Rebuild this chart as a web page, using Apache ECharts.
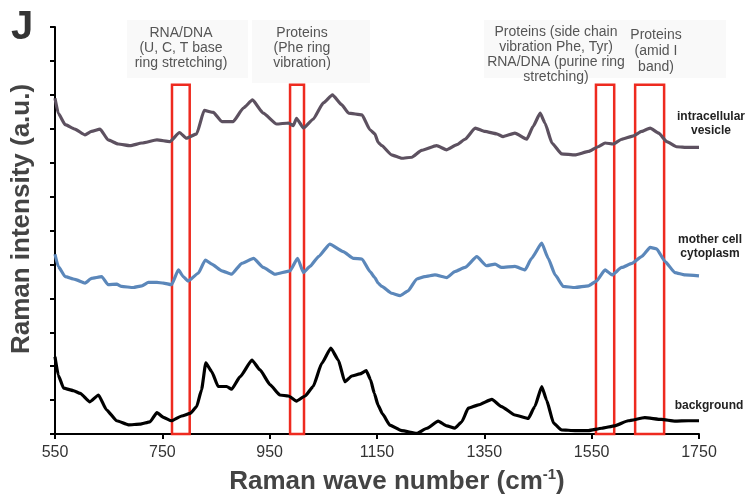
<!DOCTYPE html>
<html>
<head>
<meta charset="utf-8">
<script src="https://cdn.jsdelivr.net/npm/echarts@6/dist/echarts.min.js"></script>
<style>
html,body{margin:0;padding:0;background:#fff;}
#container{width:748px;height:500px;}
</style>
</head>
<body>
<div id="container"></div>
<script>
// wave number (cm-1) and intensity (a.u., offset traces)
var xTicks = [550, 750, 950, 1150, 1350, 1550, 1750];

var bgWave = [550,556,566,584,597,615,631,646,665,687,708,727,740,752,767,786,802,814,823,831,842,854,870,879,895,917,932,951,969,985,1000,1016,1031,1047,1064,1078,1090,1103,1118,1130,1138,1145,1152,1160,1174,1196,1224,1243,1264,1280,1295,1308,1320,1339,1364,1382,1407,1432,1444,1457,1466,1479,1494,1519,1544,1569,1593,1618,1649,1680,1705,1730,1750];
var bgInt = [2.28,1.74,1.35,1.28,1.2,0.95,1.15,0.71,0.39,0.27,0.29,0.36,0.63,0.49,0.39,0.53,0.61,0.81,1.30,2.10,1.84,1.40,1.40,1.32,1.69,2.18,1.89,1.45,1.15,1.12,0.97,1.12,1.40,2.08,2.53,2.18,1.54,1.71,1.77,1.87,1.6,1.2,0.85,0.6,0.26,0.10,0.02,0.17,0.38,0.24,0.17,0.36,0.76,0.86,1.02,0.81,0.56,0.46,0.81,1.40,1.00,0.32,0.12,0.10,0.10,0.17,0.24,0.39,0.48,0.43,0.38,0.39,0.39];

var cytoWave = [550,556,569,587,606,618,637,649,665,674,696,712,724,740,752,767,780,789,798,817,830,842,861,879,898,920,938,960,988,1002,1013,1025,1041,1062,1087,1106,1122,1137,1146,1152,1159,1177,1193,1208,1224,1239,1258,1280,1295,1314,1336,1354,1370,1382,1407,1426,1438,1457,1469,1482,1497,1519,1544,1559,1575,1588,1606,1625,1643,1659,1671,1687,1705,1724,1750];
var cytoInt = [5.30,4.94,4.64,4.56,4.45,4.59,4.64,4.40,4.42,4.35,4.32,4.37,4.47,4.47,4.45,4.40,4.84,4.64,4.51,4.74,5.13,5.01,4.81,4.71,5.03,5.18,4.91,4.71,4.81,5.18,4.76,4.94,5.23,5.60,5.38,5.18,5.16,4.79,4.61,4.45,4.35,4.15,4.08,4.22,4.57,4.64,4.69,4.61,4.79,4.91,5.23,4.96,5.01,4.91,4.94,4.84,5.18,5.63,5.18,4.69,4.35,4.32,4.37,4.51,4.84,4.69,4.91,5.03,5.23,5.50,5.46,5.08,4.76,4.69,4.66];

var vesWave = [550,556,569,587,606,618,634,649,668,690,712,740,764,782,795,814,828,845,861,882,901,918,938,963,985,994,1000,1013,1031,1050,1067,1084,1097,1122,1137,1146,1152,1159,1177,1196,1215,1233,1261,1280,1299,1314,1333,1351,1373,1385,1407,1429,1441,1454,1463,1476,1494,1519,1544,1562,1575,1590,1606,1628,1643,1659,1675,1690,1708,1730,1750];
var vesInt = [9.90,9.46,9.12,8.99,8.82,8.92,8.99,8.67,8.55,8.50,8.58,8.67,8.62,8.89,8.72,8.85,9.54,9.48,9.21,9.21,9.61,9.85,9.46,9.14,9.17,9.09,9.31,9.02,9.28,9.76,10.00,9.71,9.46,9.41,8.97,8.85,8.6,8.5,8.23,8.13,8.16,8.36,8.50,8.38,8.53,8.69,9.02,8.92,8.85,8.77,8.87,8.69,9.07,9.46,9.17,8.58,8.26,8.23,8.33,8.47,8.58,8.55,8.69,8.79,8.92,9.02,8.87,8.62,8.47,8.45,8.45];

// marked bands [from, to] and their top
var bandFrom = [768, 988, 1558, 1631];
var bandTo = [801, 1014, 1592, 1685];
var bandTop = 10.3;

var FONT = "'Liberation Sans', Arial, sans-serif";

function pairs(xs, ys) {
	var out = [];
	for (var i = 0; i < xs.length; i++) {
		out.push([xs[i], ys[i]]);
	}
	return out;
}

function lineSeries(name, xs, ys, color) {
	return {
		name: name,
		type: 'line',
		data: pairs(xs, ys),
		showSymbol: false,
		smooth: 0.15,
		smoothMonotone: 'x',
		lineStyle: { color: color, width: 3.2, join: 'round' },
		silent: true
	};
}

function label(text, x, y, style) {
	return {
		type: 'text',
		x: x,
		y: y,
		style: Object.assign({
			text: text,
			fontFamily: FONT,
			align: 'center',
			verticalAlign: 'middle'
		}, style)
	};
}

function getOption() {
	var bands = [];
	for (var i = 0; i < bandFrom.length; i++) {
		bands.push([{ xAxis: bandFrom[i], yAxis: 0 }, { xAxis: bandTo[i], yAxis: bandTop }]);
	}
	var bg = lineSeries('background', bgWave, bgInt, '#000000');
	bg.markArea = {
		silent: true,
		itemStyle: { color: 'rgba(0,0,0,0)', borderColor: '#ee2a1f', borderWidth: 2.5 },
		data: bands
	};

	var noteStyle = { fontSize: 14, fill: '#555', lineHeight: 15 };
	var tagStyle = { fontSize: 12, fontWeight: 'bold', fill: '#222', lineHeight: 14 };

	var option = {
		animation: false,
		backgroundColor: '#fff',
		grid: { left: 55, right: 49, top: 27, bottom: 66 },
		xAxis: {
			type: 'value',
			min: 550,
			max: 1750,
			axisLine: { lineStyle: { color: '#000', width: 2 } },
			axisTick: { show: true, length: 5, lineStyle: { color: '#000', width: 2 }, customValues: xTicks },
			axisLabel: {
				customValues: xTicks,
				formatter: function (v) { return String(v); },
				fontFamily: FONT, fontSize: 16, color: '#333', margin: 11
			},
			splitLine: { show: false }
		},
		yAxis: {
			type: 'value',
			min: 0,
			max: 12,
			interval: 1,
			axisLine: { show: true, lineStyle: { color: '#000', width: 2 } },
			axisTick: { show: true, length: 5, lineStyle: { color: '#000', width: 2 } },
			axisLabel: { show: false },
			splitLine: { show: false }
		},
		graphic: [
			{ type: 'rect', shape: { x: 127, y: 20, width: 121, height: 58 }, style: { fill: '#f9f9f9' }, z: -10 },
			{ type: 'rect', shape: { x: 252, y: 20, width: 118, height: 63 }, style: { fill: '#f9f9f9' }, z: -10 },
			{ type: 'rect', shape: { x: 484, y: 20, width: 242, height: 58 }, style: { fill: '#f9f9f9' }, z: -10 },
			label('J', 22, 28, { fontSize: 40, fontWeight: 'bold', fill: '#333' }),
			label('RNA/DNA\n(U, C, T base\nring stretching)', 181, 48, noteStyle),
			label('Proteins\n(Phe ring\nvibration)', 302, 48, noteStyle),
			label('Proteins (side chain\nvibration Phe, Tyr)\nRNA/DNA (purine ring\nstretching)', 556, 55, noteStyle),
			label('Proteins\n(amid I\nband)', 656, 51, Object.assign({}, noteStyle, { lineHeight: 16 })),
			label('intracellular\nvesicle', 711, 124, tagStyle),
			label('mother cell\ncytoplasm', 710, 247, tagStyle),
			label('background', 709, 406, tagStyle),
			{
				type: 'text',
				x: 22,
				y: 219,
				rotation: Math.PI / 2,
				style: {
					text: 'Raman intensity (a.u.)',
					fontFamily: FONT,
					fontSize: 26,
					fontWeight: 'bold',
					fill: '#444',
					align: 'center',
					verticalAlign: 'middle'
				}
			},
			{
				type: 'text',
				x: 397,
				y: 482,
				style: {
					text: '{a|Raman wave number (cm}{s|-1}{a|)}',
					align: 'center',
					verticalAlign: 'middle',
					rich: {
						a: { fontFamily: FONT, fontSize: 26, fontWeight: 'bold', fill: '#444', lineHeight: 30 },
						s: { fontFamily: FONT, fontSize: 15, fontWeight: 'bold', fill: '#444', verticalAlign: 'top', lineHeight: 30, padding: [0, 0, 12, 0] }
					}
				}
			}
		],
		series: [
			lineSeries('intracellular vesicle', vesWave, vesInt, '#5d5160'),
			lineSeries('mother cell cytoplasm', cytoWave, cytoInt, '#5b87ba'),
			bg
		]
	};
	return option;
}

var myChart = echarts.init(document.getElementById('container'));
myChart.setOption(getOption());
</script>
</body>
</html>
